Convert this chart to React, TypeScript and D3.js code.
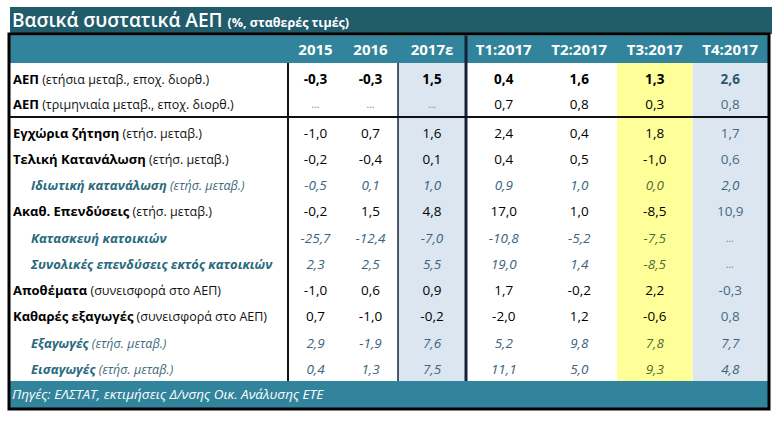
import React from "react";
import * as d3 from "d3";

const title = "Βασικά συστατικά ΑΕΠ";
const subtitle = "(%, σταθερές τιμές)";
const source = "Πηγές: ΕΛΣΤΑΤ, εκτιμήσεις Δ/νσης Οικ. Ανάλυσης ΕΤΕ";

const columns = ["2015", "2016", "2017ε", "T1:2017", "T2:2017", "T3:2017", "T4:2017"];

const labelBold = [
  "ΑΕΠ", "ΑΕΠ", "Εγχώρια ζήτηση", "Τελική Κατανάλωση", "Ιδιωτική κατανάλωση",
  "Ακαθ. Επενδύσεις", "Κατασκευή κατοικιών", "Συνολικές επενδύσεις εκτός κατοικιών",
  "Αποθέματα", "Καθαρές εξαγωγές", "Εξαγωγές", "Εισαγωγές",
];
const labelRest = [
  " (ετήσια μεταβ., εποχ. διορθ.)", " (τριμηνιαία μεταβ., εποχ. διορθ.)", " (ετήσ. μεταβ.)",
  " (ετήσ. μεταβ.)", "  (ετήσ. μεταβ.)", " (ετήσ. μεταβ.)", "", "",
  " (συνεισφορά στο ΑΕΠ)", " (συνεισφορά στο ΑΕΠ)", "  (ετήσ. μεταβ.)", "  (ετήσ. μεταβ.)",
];
// row style: "b" = bold values, "n" = normal, "i" = italic sub-item
const rowStyle = ["b", "n", "n", "n", "i", "n", "i", "i", "n", "n", "i", "i"];

const v2015 = ["-0,3", "...", "-1,0", "-0,2", "-0,5", "-0,2", "-25,7", "2,3", "-1,0", "0,7", "2,9", "0,4"];
const v2016 = ["-0,3", "...", "0,7", "-0,4", "0,1", "1,5", "-12,4", "2,5", "0,6", "-1,0", "-1,9", "1,3"];
const v2017e = ["1,5", "...", "1,6", "0,1", "1,0", "4,8", "-7,0", "5,5", "0,9", "-0,2", "7,6", "7,5"];
const vT1 = ["0,4", "0,7", "2,4", "0,4", "0,9", "17,0", "-10,8", "19,0", "1,7", "-2,0", "5,2", "11,1"];
const vT2 = ["1,6", "0,8", "0,4", "0,5", "1,0", "1,0", "-5,2", "1,4", "-0,2", "1,2", "9,8", "5,0"];
const vT3 = ["1,3", "0,3", "1,8", "-1,0", "0,0", "-8,5", "-7,5", "-8,5", "2,2", "-0,6", "7,8", "9,3"];
const vT4 = ["2,6", "0,8", "1,7", "0,6", "2,0", "10,9", "...", "...", "-0,3", "0,8", "7,7", "4,8"];

const series = [v2015, v2016, v2017e, vT1, vT2, vT3, vT4];

const FONT = "'Open Sans', 'Noto Sans', sans-serif";

export default function App() {
  const W = 779, H = 421;
  const left = 10, right = 768;
  const labelEnd = 288;
  const annualSplit = 398;
  const quarterStart = 466;

  // column scales
  const xAnnual = d3.scaleBand<string>().domain(columns.slice(0, 2)).range([labelEnd, annualSplit]);
  const xEst = d3.scaleBand<string>().domain(columns.slice(2, 3)).range([annualSplit, quarterStart]);
  const xQuarter = d3.scaleBand<string>().domain(columns.slice(3)).range([quarterStart, right]);
  const colX = (c: string) => {
    if (xAnnual.domain().includes(c)) return xAnnual(c)!;
    if (xEst.domain().includes(c)) return xEst(c)!;
    return xQuarter(c)!;
  };
  const colW = (c: string) => {
    if (xAnnual.domain().includes(c)) return xAnnual.bandwidth();
    if (xEst.domain().includes(c)) return xEst.bandwidth();
    return xQuarter.bandwidth();
  };

  // row scales
  const yTop = d3.scaleLinear().domain([0, 1]).range([79, 104]);
  const yBody = d3.scaleLinear().domain([2, 11]).range([133, 369.5]);
  const rowY = (i: number) => (i < 2 ? yTop(i) : yBody(i));

  const headTop = 35.5, headBot = 63, footTop = 381, footBot = 408;

  const valueColor = (style: string, col: string, v: string) => {
    if (v === "...") return "#808080";
    if (style === "i") return col === "T3:2017" ? "#4f6b36" : "#3a6380";
    if (col === "T4:2017") return style === "b" ? "#2a5a6c" : "#456a82";
    return "#000";
  };

  return (
    <svg width={W} height={H} style={{ position: "absolute", left: 0, top: 0, display: "block", background: "#fff" }}>
      {/* title bar */}
      <rect x={10} y={7} width={762} height={27} fill="#215c6b" />
      <text x={12} y={27} fill="#fff" fontFamily={FONT} fontSize={19} fontWeight={600}>
        {title}
        <tspan fontSize={12.5} fontWeight={700} dx={5}>{subtitle}</tspan>
      </text>

      {/* header */}
      <rect x={left} y={headTop} width={right - left} height={headBot - headTop} fill="#31849b" />

      {/* column backgrounds */}
      {["2017ε", "T4:2017"].map((c) => (
        <rect key={c} x={colX(c)} y={headBot} width={colW(c)} height={footTop - headBot} fill="#dce6f1" />
      ))}
      <rect x={colX("T3:2017")} y={headBot} width={colW("T3:2017")} height={footTop - headBot} fill="#ffff99" />

      {/* header labels */}
      {columns.map((c) => (
        <text key={c} x={colX(c) + colW(c) / 2} y={55} textAnchor="middle"
          fill="#fff" fontFamily={FONT} fontSize={15} fontWeight={700}>{c}</text>
      ))}

      {/* rows */}
      {labelBold.map((lb, i) => {
        const style = rowStyle[i];
        const italic = style === "i";
        const y = rowY(i) + 4.5;
        return (
          <g key={i}>
            <text x={italic ? 31 : 13} y={y} fontFamily={FONT} fontSize={13}
              fill={italic ? "#2a6a7c" : "#000"} fontStyle={italic ? "italic" : "normal"}>
              <tspan fontWeight={700}>{lb}</tspan>
              <tspan fontWeight={400} fontSize={12.5} fill={italic ? "#3e6a7a" : "#111"}>{labelRest[i]}</tspan>
            </text>
            {columns.map((c, j) => {
              const v = series[j][i];
              return (
                <text key={c} x={colX(c) + colW(c) / 2} y={v === "..." ? y - 1 : y} textAnchor="middle"
                  fontFamily={FONT} fontSize={v === "..." ? 10 : 13.5}
                  fontWeight={style === "b" ? 700 : 400} fontStyle={italic ? "italic" : "normal"}
                  fill={valueColor(style, c, v)}>{v}</text>
              );
            })}
          </g>
        );
      })}

      {/* footer */}
      <rect x={left} y={footTop} width={right - left} height={footBot - footTop} fill="#31849b" />
      <text x={12} y={399} fill="#fff" fontFamily={FONT} fontSize={13.5} fontStyle="italic">{source}</text>

      {/* grid lines */}
      <line x1={labelEnd} x2={labelEnd} y1={headBot} y2={footTop} stroke="#111" strokeWidth={2} />
      <line x1={annualSplit} x2={annualSplit} y1={headBot} y2={footTop} stroke="#1a2638" strokeWidth={1.5} />
      <line x1={quarterStart} x2={quarterStart} y1={headTop} y2={footTop} stroke="#14213d" strokeWidth={3} />
      <line x1={left} x2={right} y1={117} y2={117} stroke="#111" strokeWidth={2} />

      {/* outer border */}
      <rect x={9} y={34} width={760} height={375} fill="none" stroke="#000" strokeWidth={3} />
    </svg>
  );
}
